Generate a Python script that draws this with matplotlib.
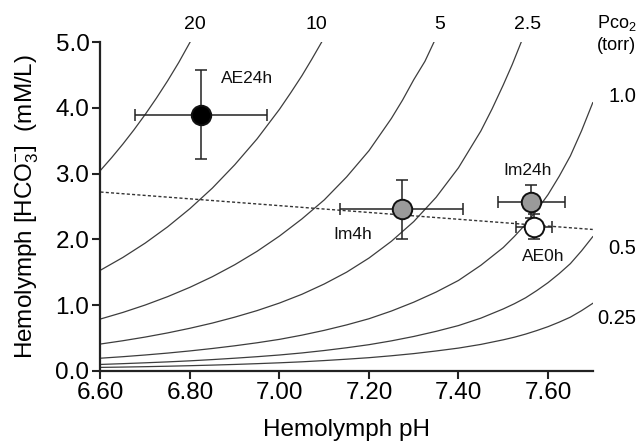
import matplotlib
matplotlib.use("Agg")
import matplotlib.pyplot as plt

plt.rcParams['font.family'] = ['Liberation Sans', 'DejaVu Sans']
plt.rcParams['mathtext.fontset'] = 'custom'
plt.rcParams['mathtext.rm'] = 'Liberation Sans'
plt.rcParams['mathtext.it'] = 'Liberation Sans:italic'
plt.rcParams['mathtext.bf'] = 'Liberation Sans:bold'

# ---- PCO2 isopleths ----
pco2_labels = ["20", "10", "5", "2.5", "1.0", "0.5", "0.25"]

iso20_ph = [6.600, 6.625, 6.650, 6.675, 6.700, 6.725, 6.750, 6.775, 6.800]
iso20_hco3 = [3.05, 3.244, 3.45, 3.669, 3.902, 4.15, 4.413, 4.694, 5.00]

iso10_ph = [6.60, 6.65, 6.70, 6.75, 6.80, 6.85, 6.90, 6.95, 7.00, 7.025, 7.05, 7.072, 7.094]
iso10_hco3 = [1.53, 1.724, 1.943, 2.19, 2.468, 2.78, 3.135, 3.53, 3.98, 4.23, 4.49, 4.74, 5.00]

iso5_ph = [6.60, 6.65, 6.70, 6.75, 6.80, 6.85, 6.90, 6.95, 7.00, 7.05, 7.10, 7.15,
           7.20, 7.25, 7.275, 7.30, 7.325, 7.345]
iso5_hco3 = [0.787, 0.887, 1.00, 1.127, 1.27, 1.431, 1.613, 1.818, 2.05, 2.31, 2.60, 2.95,
             3.35, 3.84, 4.12, 4.43, 4.71, 5.00]

iso2_5_ph = [6.60, 6.65, 6.70, 6.75, 6.80, 6.85, 6.90, 6.95, 7.00, 7.05, 7.10, 7.15,
             7.20, 7.25, 7.30, 7.35, 7.40, 7.45, 7.475, 7.50, 7.52, 7.54]
iso2_5_hco3 = [0.406, 0.456, 0.512, 0.575, 0.646, 0.725, 0.815, 0.915, 1.03, 1.163, 1.32,
               1.50, 1.715, 1.97, 2.27, 2.64, 3.09, 3.65, 3.985, 4.35, 4.66, 5.00]

iso_low_ph = [6.60, 6.65, 6.70, 6.75, 6.80, 6.85, 6.90, 6.95, 7.00, 7.05, 7.10, 7.15,
              7.20, 7.25, 7.30, 7.35, 7.40, 7.45, 7.50, 7.525, 7.55, 7.575, 7.60,
              7.625, 7.65, 7.675, 7.70]
iso1_hco3 = [0.19, 0.213, 0.239, 0.268, 0.301, 0.338, 0.379, 0.425, 0.477, 0.541, 0.614,
             0.697, 0.791, 0.908, 1.043, 1.197, 1.374, 1.605, 1.875, 2.045, 2.23, 2.445,
             2.68, 2.96, 3.27, 3.653, 4.08]
iso0_5_hco3 = [0.095, 0.107, 0.12, 0.134, 0.15, 0.169, 0.19, 0.213, 0.239, 0.27, 0.307,
               0.349, 0.396, 0.454, 0.521, 0.599, 0.687, 0.80, 0.94, 1.02, 1.11, 1.22,
               1.34, 1.478, 1.63, 1.825, 2.04]
iso0_25_hco3 = [0.05, 0.055, 0.061, 0.068, 0.076, 0.085, 0.095, 0.107, 0.12, 0.135, 0.154,
                0.175, 0.198, 0.227, 0.26, 0.30, 0.344, 0.40, 0.47, 0.51, 0.557, 0.611,
                0.67, 0.739, 0.815, 0.914, 1.025]

# ---- non-bicarbonate buffer line ----
buffer_ph = [6.60, 7.70]
buffer_hco3 = [2.72, 2.15]

# ---- measured groups ----
groups = ["AE24h", "Im4h", "Im24h", "AE0h"]
group_ph = [6.825, 7.273, 7.563, 7.569]
group_ph_err = [0.148, 0.137, 0.075, 0.041]
group_hco3 = [3.90, 2.46, 2.57, 2.19]
group_hco3_err = [0.68, 0.45, 0.25, 0.19]
group_fill = ["#000000", "#9a9a9a", "#9a9a9a", "#ffffff"]

# label positions (data coords)
group_label_xy = [(6.928, 4.45), (7.163, 2.07), (7.555, 3.05), (7.589, 1.74)]
top_label_ph = [6.811, 7.083, 7.357, 7.554]

fig = plt.figure(figsize=(6.36, 4.45), dpi=100)
ax = fig.add_axes([0.158, 0.167, 0.774, 0.738])

line_kw = dict(color="#3d3d3d", lw=0.9, zorder=1)
for xs, ys in [(iso20_ph, iso20_hco3), (iso10_ph, iso10_hco3), (iso5_ph, iso5_hco3),
               (iso2_5_ph, iso2_5_hco3), (iso_low_ph, iso1_hco3),
               (iso_low_ph, iso0_5_hco3), (iso_low_ph, iso0_25_hco3)]:
    ax.plot(xs, ys, **line_kw)

ax.plot(buffer_ph, buffer_hco3, color="#333333", lw=1.0, ls=(0, (2.2, 1.6)), zorder=1)

for x, xe, y, ye, fc in zip(group_ph, group_ph_err, group_hco3, group_hco3_err, group_fill):
    ax.errorbar(x, y, xerr=xe, yerr=ye, fmt="none", ecolor="#222222", elinewidth=1.1,
                capsize=4, capthick=1.1, zorder=2)
    ax.plot(x, y, "o", ms=14, mfc=fc, mec="#111111", mew=1.4, zorder=3)

for name, (lx, ly) in zip(groups, group_label_xy):
    ax.text(lx, ly, name, fontsize=12.5, ha="center", va="center", color="#111111")

for lab, lx in zip(pco2_labels[:4], top_label_ph):
    ax.text(lx, 5.27, lab, fontsize=14, ha="center", va="center", clip_on=False)

fig.text(609 / 636, 1 - 96 / 445, pco2_labels[4], fontsize=14.5, ha="left", va="center")
fig.text(608 / 636, 1 - 249 / 445, pco2_labels[5], fontsize=14.5, ha="left", va="center")
fig.text(597 / 636, 1 - 318 / 445, pco2_labels[6], fontsize=14.5, ha="left", va="center")
fig.text(597 / 636, 1 - 23 / 445, r"P$\mathregular{co_2}$", fontsize=13, ha="left", va="center")
fig.text(597 / 636, 1 - 45 / 445, "(torr)", fontsize=13, ha="left", va="center")

ax.set_xlim(6.6, 7.7)
ax.set_ylim(0, 5.0)
ax.set_xticks([6.6, 6.8, 7.0, 7.2, 7.4, 7.6])
ax.set_xticklabels(["6.60", "6.80", "7.00", "7.20", "7.40", "7.60"])
ax.set_yticks([0, 1, 2, 3, 4, 5])
ax.set_yticklabels(["0.0", "1.0", "2.0", "3.0", "4.0", "5.0"])
for s in ["top", "right"]:
    ax.spines[s].set_visible(False)
for s in ["left", "bottom"]:
    ax.spines[s].set_linewidth(1.6)
    ax.spines[s].set_color("#222222")
ax.tick_params(axis="both", direction="out", length=6, width=1.5, color="#222222",
               labelsize=17.5, pad=2)
ax.set_xlabel("Hemolymph pH", fontsize=17.5, labelpad=11)
ax.set_ylabel(r"Hemolymph [HCO$_3^{-}$]  (mM/L)", fontsize=17.5, labelpad=10)

fig.savefig("out.png", dpi=100)
